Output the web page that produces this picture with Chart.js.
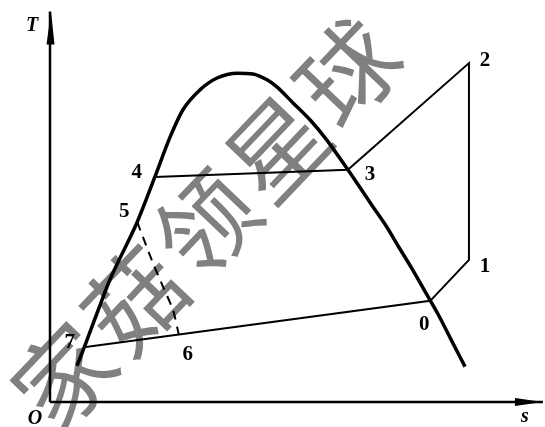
<!DOCTYPE html>
<html>
<head>
<meta charset="utf-8">
<script src="https://cdn.jsdelivr.net/npm/chart.js@4/dist/chart.umd.min.js"></script>
<style>
html,body{margin:0;padding:0;background:#fff;}
#c{display:block;}
</style>
</head>
<body>
<canvas id="c" width="545" height="427"></canvas>
<script>
// Saturation dome (entropy s, temperature T), arbitrary units
const domeS = [0.55,0.71,0.96,1.22,1.78,2.14,2.45,2.71,3.06,3.41,3.82,4.14,4.43,4.63,4.96,5.31,5.65,6.08,6.33,6.59,6.86,7.12,7.39,7.65,7.92,8.18,8.47];
const domeT = [0.97,1.51,2.39,3.28,4.84,6.05,7.12,7.85,8.39,8.71,8.84,8.82,8.66,8.47,8.04,7.58,7.04,6.24,5.76,5.25,4.73,4.16,3.58,2.98,2.36,1.69,0.95];

// State points
const stateNames = ['0','1','2','3','4','5','6','7'];
const stateS = [7.76,8.55,8.55,6.08,2.14,1.78,2.63,0.73];
const stateT = [2.72,3.82,9.11,6.24,6.05,4.84,1.80,1.48];

// Cycle path (solid): 7 -> 0 -> 1 -> 2 -> 3 -> 4
const cyclePath = ['7','0','1','2','3','4'];
// Throttling path (dashed): 5 -> 6
const dashS = [1.78,2.10,2.31,2.51,2.63];
const dashT = [4.84,3.74,3.09,2.47,1.80];

// Axes
const axisLabels = {T:'T', s:'s', O:'O'};
const axisMaxS = 10.06, axisMaxT = 10.5;

const watermark = ['家','菇','领','星','球'];

const pt = n => { const i = stateNames.indexOf(n); return {x: stateS[i], y: stateT[i]}; };

const labelOffset = {'0':[-6,24],'1':[16,7],'2':[16,-3],'3':[22,5],'4':[-18,-4],'5':[-13,-10],'6':[9,20],'7':[-16,-4]};

const decor = {
  id:'decor',
  beforeDatasetsDraw(chart){
    const ctx = chart.ctx;
    // watermark
    ctx.save();
    ctx.fillStyle = '#808080';
    ctx.font = '98px "Noto Sans CJK SC"';
    ctx.textAlign = 'center';
    ctx.textBaseline = 'middle';
    const c0 = {x:64,y:376}, step = {x:71,y:-76};
    watermark.forEach((ch,i)=>{
      ctx.save();
      ctx.translate(c0.x+step.x*i, c0.y+step.y*i);
      ctx.rotate(-Math.PI/4*1.03);
      ctx.fillText(ch,0,0);
      ctx.restore();
    });
    ctx.restore();
  },
  afterDatasetsDraw(chart){
    const ctx = chart.ctx, xs = chart.scales.x, ys = chart.scales.y;
    const X = v=>xs.getPixelForValue(v), Y = v=>ys.getPixelForValue(v);
    ctx.save();
    ctx.strokeStyle = '#000'; ctx.fillStyle = '#000';
    ctx.lineWidth = 2.5;
    // y axis
    const ox = X(0), oy = Y(0);
    ctx.beginPath(); ctx.moveTo(ox, oy); ctx.lineTo(ox, Y(axisMaxT)); ctx.stroke();
    const ty = Y(axisMaxT);
    ctx.beginPath(); ctx.moveTo(ox+1, ty); ctx.lineTo(ox+4.5, ty+33); ctx.lineTo(ox-3.5, ty+33); ctx.closePath(); ctx.fill();
    // x axis
    ctx.beginPath(); ctx.moveTo(ox, oy); ctx.lineTo(X(axisMaxS), oy); ctx.stroke();
    const tx = X(axisMaxS);
    ctx.beginPath(); ctx.moveTo(tx, oy); ctx.lineTo(tx-28, oy-4); ctx.lineTo(tx-28, oy+4); ctx.closePath(); ctx.fill();
    // axis labels
    ctx.font = 'italic bold 20px "Liberation Serif"';
    ctx.textAlign='center'; ctx.textBaseline='middle';
    ctx.fillText(axisLabels.T, ox-18, ty+14);
    ctx.fillText(axisLabels.O, ox-15, oy+17);
    ctx.fillText(axisLabels.s, tx-18, oy+15);
    // state labels
    ctx.font = 'bold 21px "Liberation Serif"';
    stateNames.forEach((n,i)=>{
      const o = labelOffset[n];
      ctx.fillText(n, X(stateS[i])+o[0], Y(stateT[i])+o[1]);
    });
    ctx.restore();
  }
};

new Chart(document.getElementById('c'), {
  type:'scatter',
  data:{
    datasets:[
      {data: domeS.map((s,i)=>({x:s,y:domeT[i]})), showLine:true, borderColor:'#000', borderWidth:3.5, pointRadius:0, cubicInterpolationMode:'monotone', clip:false},
      {data: cyclePath.map(pt), showLine:true, borderColor:'#000', borderWidth:2, pointRadius:0, tension:0, clip:false},
      {data: dashS.map((s,i)=>({x:s,y:dashT[i]})), showLine:true, borderColor:'#000', borderWidth:2, borderDash:[9,7], pointRadius:0, tension:0.3, clip:false}
    ]
  },
  options:{
    responsive:false, animation:false,
    layout:{padding:{left:50,right:5,top:30,bottom:25}},
    plugins:{legend:{display:false}, tooltip:{enabled:false}},
    scales:{
      x:{type:'linear', display:false, min:0, max:10},
      y:{type:'linear', display:false, min:0, max:10}
    }
  },
  plugins:[decor]
});
</script>
</body>
</html>
